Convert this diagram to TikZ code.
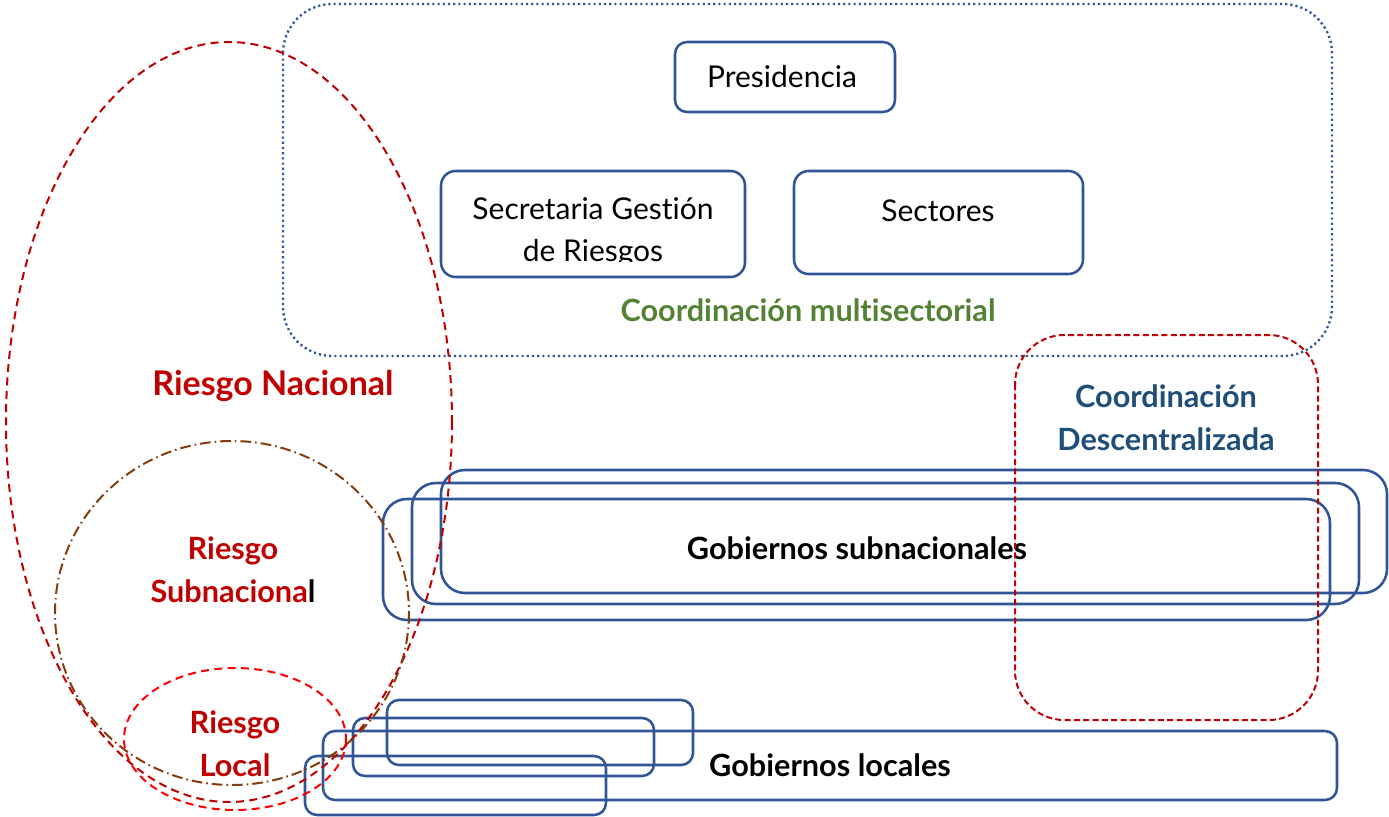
\documentclass[tikz,border=0pt]{standalone}
\usepackage{fontspec}
\setmainfont{Lato}[Ligatures=CommonOff]
\usetikzlibrary{fit}

\definecolor{boxblue}{RGB}{47,85,151}
\definecolor{multigreen}{RGB}{84,130,53}
\definecolor{riskred}{RGB}{192,0,0}
\definecolor{localred}{RGB}{255,0,0}
\definecolor{subbrown}{RGB}{132,60,12}
\definecolor{descblue}{RGB}{31,78,121}

\tikzset{every picture/.style={line width=0.75pt}}

\begin{document}
\begin{tikzpicture}[x=0.75pt,y=0.75pt,yscale=-1,xscale=1,
  orgbox/.style={draw=boxblue, line width=1.9pt, rounded corners=9pt, inner sep=0pt},
  govbox/.style={orgbox, rounded corners=18pt},
  plain/.style={inner sep=0pt, font=\fontsize{22.5}{31.5}\selectfont, align=center},
  heavy/.style={inner sep=0pt, font=\fontsize{23}{32}\selectfont\bfseries, align=center},
  riskline/.style={draw=riskred, line width=1.5pt, dash pattern=on 6pt off 4pt}]
\useasboundingbox (0,0) rectangle (1389,817);

%Shape: Rounded Rect (multisectorial)
\draw [boxblue, line width=1.8pt, dash pattern=on 1.6pt off 2.3pt, rounded corners=37pt] (283,4) rectangle (1332,356);

%Shape: Rounded Rect
\node [orgbox, fit={(675,42) (895,112)}] (pres) {};
\node [orgbox, rounded corners=11pt, fit={(441,171) (745,277)}] (sgr) {};
\node [orgbox, rounded corners=11pt, fit={(794,171) (1083,274)}] (sect) {};

%Shape: Rounded Rect (subnacionales)
\node [govbox, fit={(441,470) (1387,593)}] (sub1) {};
\node [govbox, fit={(412,483) (1359,604)}] (sub2) {};
\node [govbox, fit={(383,499) (1330,620)}] (sub3) {};

%Shape: Rounded Rect (locales)
\node [orgbox, fit={(387,700) (693,765)}] (loc1) {};
\node [orgbox, fit={(353,718) (654,776)}] (loc2) {};
\node [orgbox, fit={(323,731) (1337,800)}] (loc3) {};
\node [orgbox, fit={(305,756) (606,815)}] (loc4) {};

% Text Node
\node [plain] (tpres) at (782,77) {Presidencia};
% Text Node
\begin{scope}
\clip (441,171) rectangle (745,261);
\node [plain] (tsgr) at (593,232) {Secretaria Gestión\\de Riesgos};
\end{scope}
% Text Node
\node [plain] (tsect) at (938,211) {Sectores};
% Text Node
\node [heavy, text=multigreen] (tmulti) at (808,310) {Coordinación multisectorial};
% Text Node
\node [heavy, text=descblue] (tdesc) at (1166,418) {Coordinación\\Descentralizada};
% Text Node
\node [heavy] (tsub) at (857,548) {Gobiernos subnacionales};
% Text Node
\node [heavy] (tloc) at (830,765) {Gobiernos locales};
% Text Node
\node [heavy, text=riskred, font=\fontsize{25.5}{32}\selectfont\bfseries] (tnac) at (273,386) {Riesgo Nacional};
% Text Node
\node [heavy, text=riskred] (tsubn) at (233,570) {Riesgo\\Subnaciona\textcolor{black}{l}};
% Text Node
\node [heavy, text=riskred] (tlocal) at (235,744) {Riesgo\\Local};

%Shape: Ellipse
\draw [riskline] (229,422) ellipse [x radius=223, y radius=380];
%Shape: Ellipse
\draw [subbrown, line width=1.5pt, dash pattern=on 8pt off 3pt on 1.2pt off 3pt] (232,613) ellipse [x radius=177, y radius=172];
%Shape: Ellipse
\draw [riskline, draw=localred] (235,739) ellipse [x radius=111, y radius=71];
%Shape: Rounded Rect (descentralizada)
\draw [riskline, dash pattern=on 4.5pt off 2.5pt, rounded corners=37pt] (1015,335) rectangle (1318,720);

\end{tikzpicture}
\end{document}
